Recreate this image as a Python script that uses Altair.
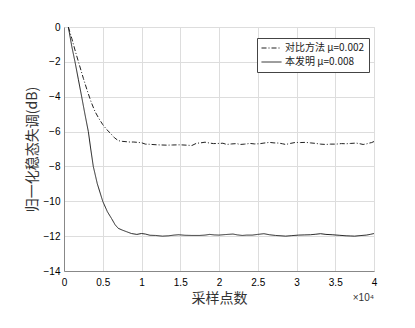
import altair as alt
import pandas as pd

# x in units of 10^4 samples, y in dB
cmp_x = [0.056, 0.10, 0.15, 0.20, 0.25, 0.30, 0.35, 0.40, 0.45, 0.50, 0.55, 0.60, 0.65, 0.70,
         0.75, 0.80, 0.85, 0.90, 0.95, 1.00, 1.05, 1.10, 1.20, 1.33, 1.40, 1.50, 1.58, 1.65, 1.71,
         1.76, 1.82, 1.88, 1.93, 2.00, 2.05, 2.10, 2.16, 2.23, 2.27, 2.33, 2.40, 2.46, 2.52, 2.58,
         2.65, 2.71, 2.77, 2.82, 2.86, 2.92, 2.99, 3.05, 3.12, 3.18, 3.25, 3.31, 3.38, 3.44, 3.51,
         3.58, 3.64, 3.70, 3.77, 3.82, 3.86, 3.90, 3.94, 3.97, 4.00]
cmp_y = [0.0, -0.65, -1.45, -2.2, -2.95, -3.65, -4.3, -4.85, -5.25, -5.6, -5.88, -6.1, -6.35, -6.52,
         -6.56, -6.58, -6.6, -6.6, -6.62, -6.64, -6.72, -6.73, -6.76, -6.78, -6.77, -6.76, -6.78, -6.8, -6.67,
         -6.65, -6.61, -6.66, -6.69, -6.68, -6.67, -6.74, -6.71, -6.69, -6.74, -6.72, -6.68, -6.71, -6.7, -6.66,
         -6.62, -6.65, -6.66, -6.7, -6.74, -6.68, -6.62, -6.63, -6.62, -6.65, -6.68, -6.72, -6.74, -6.72, -6.72,
         -6.69, -6.7, -6.68, -6.66, -6.7, -6.74, -6.71, -6.66, -6.63, -6.57]

inv_x = [0.056, 0.10, 0.142, 0.185, 0.228, 0.27, 0.314, 0.345, 0.378, 0.43, 0.50, 0.56, 0.615, 0.66,
         0.70, 0.75, 0.81, 0.87, 0.94, 1.00, 1.05, 1.11, 1.18, 1.27, 1.35, 1.42, 1.48, 1.56, 1.65, 1.75,
         1.82, 1.88, 1.94, 2.00, 2.08, 2.18, 2.24, 2.30, 2.36, 2.43, 2.50, 2.58, 2.65, 2.73, 2.80, 2.86,
         2.94, 3.03, 3.10, 3.18, 3.25, 3.31, 3.38, 3.46, 3.55, 3.64, 3.70, 3.75, 3.82, 3.90, 3.95, 4.00]
inv_y = [0.0, -1.1, -2.0, -3.0, -4.0, -5.0, -6.0, -7.0, -8.0, -9.0, -10.0, -10.6, -11.0, -11.35,
         -11.55, -11.65, -11.75, -11.85, -11.9, -11.85, -11.88, -11.95, -11.96, -12.0, -11.98, -11.94, -11.92, -11.95, -11.96, -11.96,
         -11.94, -11.9, -11.93, -11.94, -11.91, -11.88, -11.93, -11.96, -11.94, -11.94, -11.9, -11.86, -11.92, -11.96, -11.98, -12.0,
         -11.97, -11.94, -11.93, -11.92, -11.89, -11.86, -11.9, -11.92, -11.95, -11.98, -11.99, -12.0, -11.97, -11.94, -11.9, -11.85]

series_names = ["对比方法 μ=0.002", "本发明 μ=0.008"]
x_ticks = [0, 0.5, 1, 1.5, 2, 2.5, 3, 3.5, 4]
y_ticks = [-14, -12, -10, -8, -6, -4, -2, 0]

df = pd.concat([
    pd.DataFrame({"x": cmp_x, "y": cmp_y, "s": series_names[0]}),
    pd.DataFrame({"x": inv_x, "y": inv_y, "s": series_names[1]}),
])
exp_df = pd.DataFrame({"x": [4], "y": [-14], "t": ["×10⁴"]})

cjk = "Noto Sans CJK SC"
latin = "Liberation Sans"

xs = alt.Scale(domain=[0, 4], nice=False, zero=False)
ys = alt.Scale(domain=[-14, 0], nice=False, zero=False)

xaxis = alt.Axis(values=x_ticks, tickCount=9, format="~g", grid=True, ticks=False,
                 labelOverlap=False, labelFlush=False,
                 labelPadding=6, titlePadding=4, titleFont=cjk, titleFontSize=14,
                 titleFontWeight="normal", titleColor="#333")
yaxis = alt.Axis(values=y_ticks, tickCount=8, format="d", grid=True, ticks=False,
                 labelOverlap=False, labelFlush=False,
                 labelPadding=4, titlePadding=4, titleFont=cjk, titleFontSize=14,
                 titleFontWeight="normal", titleColor="#333")

X = alt.X("x:Q", scale=xs, title="采样点数", axis=xaxis)
Y = alt.Y("y:Q", scale=ys, title="归一化稳态失调(dB)", axis=yaxis)

lines = alt.Chart(df).mark_line(color="#222", strokeWidth=1).encode(
    x=X, y=Y,
    strokeDash=alt.StrokeDash("s:N", sort=series_names,
                              scale=alt.Scale(domain=series_names, range=[[5, 2, 1, 2], [1, 0]]),
                              legend=alt.Legend(title=None, orient="none", legendX=193, legendY=11,
                                                direction="vertical", strokeColor="#444",
                                                fillColor="white", padding=4, symbolType="stroke",
                                                symbolSize=400, symbolStrokeWidth=1,
                                                symbolStrokeColor="#222", labelFont=cjk,
                                                labelFontSize=10, labelColor="#222",
                                                clipHeight=12, labelOffset=3)),
    order="x:Q",
)

exp_label = alt.Chart(exp_df).mark_text(
    align="right", baseline="middle", dy=27, font=latin, fontSize=10, color="#333"
).encode(x=X, y=Y, text="t:N")

chart = alt.layer(lines, exp_label).properties(
    width=310, height=244,
    autosize=alt.AutoSizeParams(type="none"),
    padding={"left": 56, "top": 19, "right": 33, "bottom": 49},
).configure_view(stroke="#666", strokeWidth=1).configure_axis(
    labelFont=latin, labelFontSize=10.5, labelColor="#333", gridColor="#e3e3e3",
    domainColor="#666", domainWidth=1,
).configure(background="white")

chart.save("out.html", embed_options={"renderer": "svg", "actions": False})
